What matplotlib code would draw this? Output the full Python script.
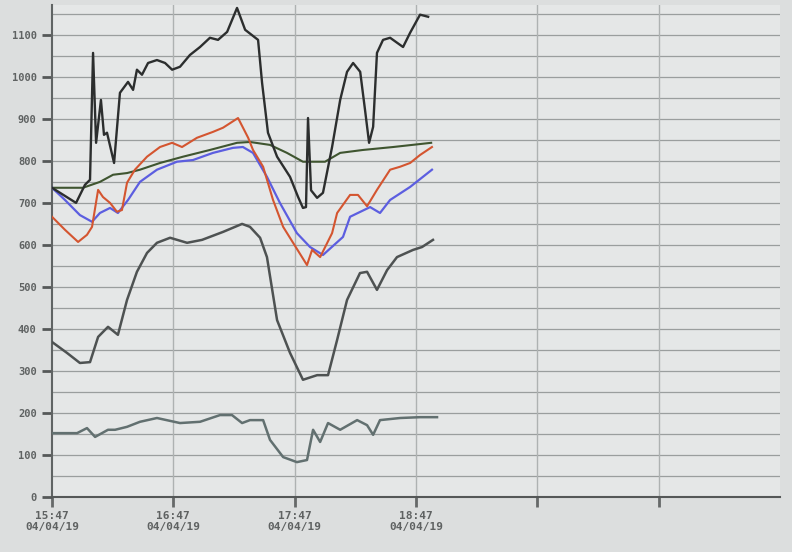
import matplotlib
matplotlib.use("Agg")
import matplotlib.pyplot as plt
import numpy as np

# time in minutes after 15:47 on 04/04/19
t_top = [0, 11.9, 16.3, 18.8, 20.3, 21.8, 24.2, 25.7, 27.2, 30.7, 33.6, 37.6, 40.1, 42.0, 44.5, 47.5,
         51.9, 55.9, 59.4, 63.3, 68.2, 73.2, 78.1, 82.1, 86.6, 91.5, 95.5, 101.9, 103.9, 106.8, 111.3,
         117.7, 121.7, 124.1, 125.6, 126.6, 128.1, 131.1, 134.0, 138.5, 142.5, 145.9, 148.9, 152.4,
         154.8, 156.8, 158.8, 160.7, 163.7, 167.2, 173.6, 177.1, 182.0, 186.0]
v_top = [736, 700, 743, 755, 1057, 843, 945, 862, 867, 795, 962, 988, 969, 1017, 1005, 1033,
         1040, 1033, 1017, 1024, 1052, 1071, 1093, 1088, 1107, 1164, 1112, 1088, 985, 867, 810,
         762, 714, 688, 690, 902, 730, 712, 724, 833, 945, 1012, 1033, 1012,
         921, 843, 881, 1057, 1088, 1093, 1071, 1105, 1148, 1143]

t_green = [0, 15.3, 23.7, 30.2, 37.1, 43.5, 53.4, 64.8, 78.1, 91.5, 97.9, 107.8, 116.2, 124.1,
           135.0, 142.5, 153.8, 168.7, 187.5]
v_green = [736, 736, 750, 767, 771, 779, 795, 810, 826, 843, 845, 838, 819, 798,
           798, 819, 826, 833, 843]

t_red = [0, 6.4, 12.9, 17.3, 19.8, 22.8, 25.2, 28.7, 32.1, 34.6, 37.1, 41.0, 47.0, 53.4, 59.4,
         64.3, 71.7, 79.6, 84.6, 92.0, 97.0, 99.4, 104.4, 109.3, 114.3, 126.1, 128.6, 132.6, 138.5,
         141.0, 147.4, 151.3, 155.8, 160.7, 167.2, 172.1, 177.1, 182.0, 187.9]
v_red = [667, 636, 607, 624, 643, 731, 714, 700, 679, 683, 748, 779, 810, 833, 843,
         833, 855, 869, 879, 902, 855, 826, 786, 707, 643, 552, 588, 571, 628,
         676, 719, 719, 692, 731, 779, 786, 795, 814, 833]

t_blue = [0, 6.4, 13.8, 19.8, 23.7, 28.7, 32.6, 37.6, 43.5, 51.9, 61.8, 69.7, 79.6, 89.5, 94.4,
          99.4, 106.3, 112.7, 121.1, 127.6, 134.0, 143.9, 147.4, 157.3, 162.2, 167.2, 177.1, 187.9]
v_blue = [736, 707, 671, 655, 676, 688, 676, 707, 750, 779, 798, 802, 819, 831, 833,
          819, 762, 700, 628, 595, 576, 619, 667, 690, 676, 707, 738, 779]

t_mid = [0, 7.4, 13.8, 18.8, 22.8, 27.7, 32.6, 37.1, 42.0, 47.0, 51.9, 58.4, 66.8, 74.2, 84.6,
         94.0, 97.9, 102.9, 106.3, 111.3, 117.7, 124.1, 131.1, 136.5, 141.0, 145.9, 152.3, 155.8,
         160.7, 165.7, 170.6, 178.5, 183.0, 188.4]
v_mid = [369, 343, 319, 321, 381, 405, 386, 469, 536, 581, 605, 617, 605, 612, 631,
         650, 643, 617, 571, 421, 343, 279, 290, 290, 374, 469, 533, 536,
         493, 540, 571, 588, 595, 612]

t_low = [0, 12.4, 17.3, 21.3, 24.7, 27.7, 31.2, 37.1, 43.5, 51.9, 63.3, 73.2, 83.1, 89.0, 94.0,
         97.9, 104.4, 107.8, 114.3, 121.1, 126.1, 129.1, 132.6, 136.5, 142.5, 150.9, 155.8, 158.8,
         162.2, 172.1, 182.0, 190.4]
v_low = [152, 152, 164, 143, 152, 160, 160, 167, 179, 188, 176, 179, 195, 195, 176,
         183, 183, 136, 95, 83, 88, 160, 131, 176, 160, 183, 171, 148,
         183, 188, 190, 190]

x_ticks = [0, 60, 120, 180, 240, 300]
x_labels = ["15:47\n04/04/19", "16:47\n04/04/19", "17:47\n04/04/19", "18:47\n04/04/19", "", ""]
y_ticks = [0, 100, 200, 300, 400, 500, 600, 700, 800, 900, 1000, 1100]

fig = plt.figure(figsize=(7.92, 5.52), dpi=100)
fig.patch.set_facecolor("#dcdede")
ax = fig.add_axes([52 / 792, 1 - 497 / 552, (780 - 52) / 792, (497 - 5) / 552])
ax.set_facecolor("#e5e7e7")

ax.set_xlim(0, 360)
ax.set_ylim(0, 1171)

for yv in np.arange(50, 1171, 50):
    ax.axhline(yv, color="#9a9e9e", lw=0.9, zorder=1)
for xv in x_ticks[1:]:
    ax.axvline(xv, color="#aeb2b2", lw=1.0, zorder=1)

ax.plot(t_low, v_low, color="#627070", lw=1.8, zorder=3)
ax.plot(t_mid, v_mid, color="#4e5252", lw=1.8, zorder=3)
ax.plot(t_green, v_green, color="#3f5530", lw=1.5, zorder=3)
ax.plot(t_blue, v_blue, color="#5c5ee0", lw=1.6, zorder=4)
ax.plot(t_red, v_red, color="#d45530", lw=1.5, zorder=4)
ax.plot(t_top, v_top, color="#2c2e2e", lw=1.7, zorder=5)

ax.set_xticks(x_ticks)
ax.set_xticklabels(x_labels, fontsize=8, color="#5f6262", fontweight="bold",
                   family="DejaVu Sans Mono", ha="center")
ax.set_yticks(y_ticks)
ax.set_yticklabels([str(v) for v in y_ticks], fontsize=7.5, color="#5f6262",
                   fontweight="bold", family="DejaVu Sans Mono")
ax.tick_params(axis="y", length=7, width=2, color="#555858", pad=4)
ax.tick_params(axis="x", length=7, width=2, color="#666969", pad=3)

for s in ["top", "right"]:
    ax.spines[s].set_visible(False)
ax.spines["left"].set_color("#606464")
ax.spines["left"].set_linewidth(1.5)
ax.spines["bottom"].set_color("#555858")
ax.spines["bottom"].set_linewidth(1.5)

fig.savefig("out.png", dpi=100, facecolor=fig.get_facecolor())
